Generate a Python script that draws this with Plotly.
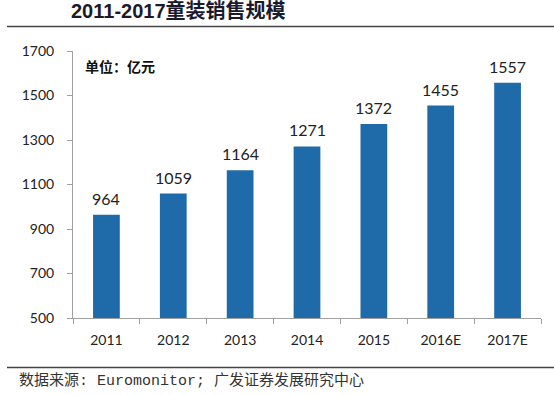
import plotly.graph_objects as go

categories = ["2011", "2012", "2013", "2014", "2015", "2016E", "2017E"]
values = [964, 1059, 1164, 1271, 1372, 1455, 1557]
y_ticks = [500, 700, 900, 1100, 1300, 1500, 1700]

font_main = "Lato, 'Noto Sans CJK SC', sans-serif"
W, H = 554, 395
L, R, T, B = 73, 13, 51, 77
PW, PH = W - L - R, H - T - B


def px_x(x):
    return (x - L) / PW


def px_y(y):
    return (H - B - y) / PH


fig = go.Figure()
fig.add_trace(go.Bar(
    x=categories, y=values,
    marker=dict(color="#1F6AA8", line=dict(width=0)),
    width=0.40,
    hoverinfo="x+y",
))

# value labels placed above each bar (category index on a category axis)
annotations = [
    dict(x=i, y=v, xref="x", yref="y", text=str(v), showarrow=False,
         yanchor="bottom", yshift=5,
         font=dict(size=16, color="#222222", family=font_main))
    for i, v in enumerate(values)
]

annotations += [
    dict(text="<b>2011-2017童装销售规模</b>", xref="paper", yref="paper",
         x=px_x(69), xanchor="left", y=px_y(10), yanchor="middle",
         showarrow=False,
         font=dict(size=20, color="#1a1a2e",
                   family="'Liberation Sans', 'Noto Sans CJK SC', sans-serif")),
    dict(text="<b>单位：亿元</b>", xref="paper", yref="paper",
         x=px_x(83), xanchor="left", y=px_y(66), yanchor="middle",
         showarrow=False,
         font=dict(size=14, color="#111111", family="'Noto Sans CJK SC', sans-serif")),
    dict(text="数据来源: Euromonitor; 广发证券发展研究中心", xref="paper", yref="paper",
         x=px_x(17), xanchor="left", y=px_y(381), yanchor="middle",
         showarrow=False,
         font=dict(size=15, color="#333333",
                   family="'Liberation Mono', 'Noto Sans CJK SC', monospace")),
]

fig.update_layout(
    width=W, height=H,
    margin=dict(l=L, r=R, t=T, b=B),
    paper_bgcolor="white", plot_bgcolor="white",
    showlegend=False,
    xaxis=dict(
        type="category",
        range=[-0.5, len(categories) - 0.5],
        showline=True, linecolor="#a0a0a0", linewidth=1,
        ticks="outside", ticklen=5, tickcolor="#a0a0a0", tickson="boundaries",
        ticklabelstandoff=9,
        tickfont=dict(size=14, color="#222222", family=font_main),
        showgrid=False,
    ),
    yaxis=dict(
        range=[500, 1700], tickvals=y_ticks,
        showline=True, linecolor="#a0a0a0", linewidth=1,
        ticks="outside", ticklen=5, tickcolor="#a0a0a0",
        ticklabelstandoff=10,
        tickfont=dict(size=14, color="#222222", family=font_main),
        showgrid=False, zeroline=False,
    ),
    shapes=[
        dict(type="line", xref="paper", yref="paper", x0=px_x(7), x1=px_x(554),
             y0=px_y(26.5), y1=px_y(26.5), line=dict(color="#444444", width=1.5)),
        dict(type="line", xref="paper", yref="paper", x0=px_x(7), x1=px_x(554),
             y0=px_y(367.5), y1=px_y(367.5), line=dict(color="#444444", width=1.5)),
    ],
    annotations=annotations,
)

fig.write_html("out.html", config={"displayModeBar": False},
               post_script="document.body.style.margin='0';document.body.style.padding='0';")
